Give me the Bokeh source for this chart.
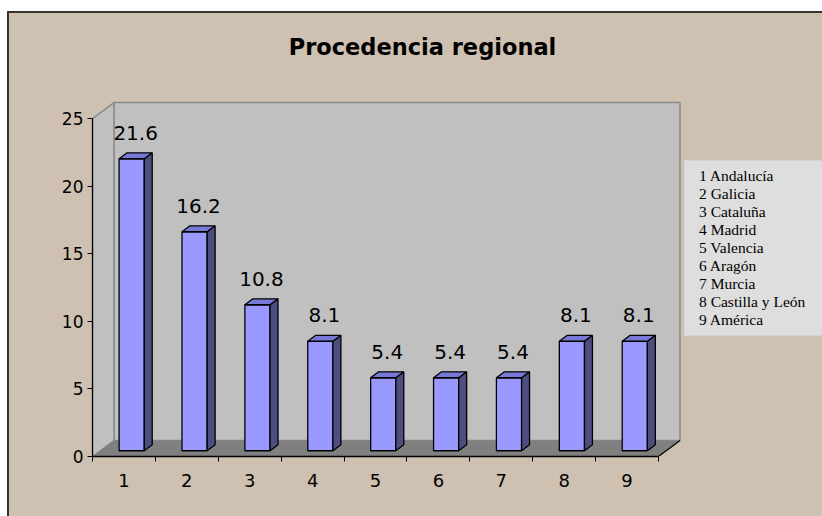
from bokeh.plotting import figure
from bokeh.models import Range1d, FixedTicker, Legend, LegendItem, Label
from bokeh.embed import file_html
from bokeh.resources import INLINE
from bokeh.core.properties import value

# ---------------- data ----------------
categories = ["1", "2", "3", "4", "5", "6", "7", "8", "9"]
regions = ["Andalucía", "Galicia", "Cataluña", "Madrid", "Valencia",
           "Aragón", "Murcia", "Castilla y León", "América"]
values = [21.6, 16.2, 10.8, 8.1, 5.4, 5.4, 5.4, 8.1, 8.1]
value_labels = ["21.6", "16.2", "10.8", "8.1", "5.4", "5.4", "5.4", "8.1", "8.1"]
y_ticks = [0, 5, 10, 15, 20, 25]
title_text = "Procedencia regional"

# ---------------- style / 3-D geometry (axis units) ----------------
TAN = "#CFC1B1"
WALL = "#C0C0C0"
FLOOR = "#808080"
EDGE = "#8A8A8A"
FRONT = "#9999FF"
SIDE = "#4D4D80"
TOP = "#7878D6"
BORDER = "#333333"

Y_MAX = 25
DX = 0.342        # depth shift in x (category units)
DY = 1.183        # depth shift in y (value units)
TOP_PAD = 7.55    # empty room above the back wall (title area)
RIGHT_PAD = 2.266 # empty room right of the back wall (legend area)
BAR_HALF = 0.2
BAR_FRONT = 0.36
BAR_DEPTH = 0.37
LABEL_GAP = 1.5

n = len(categories)
xs = list(range(1, n + 1))
x_lo, x_hi = 0.5, n + 0.5

W, H = 822, 516
p = figure(width=W, height=H, output_backend="svg", toolbar_location=None,
           x_range=Range1d(x_lo, x_hi + DX + RIGHT_PAD),
           y_range=Range1d(0, Y_MAX + DY + TOP_PAD),
           min_border_left=92, min_border_right=0, min_border_top=0,
           min_border_bottom=60)
# chart-area background (white page margin, dark frame lines, tan area)
p.border_fill_alpha = 0
p.background_fill_alpha = 0
p.styles = {"background":
            f"linear-gradient({BORDER}, {BORDER}) 7px 11px / 2px 100% no-repeat, "
            f"linear-gradient({BORDER}, {BORDER}) 7px 11px / 100% 2px no-repeat, "
            f"linear-gradient({TAN}, {TAN}) 9px 13px / 100% 100% no-repeat, "
            "#FFFFFF"}
p.outline_line_color = None
p.grid.visible = False

# walls and floor
p.patch([x_lo + DX, x_hi + DX, x_hi + DX, x_lo + DX],
        [DY, DY, Y_MAX + DY, Y_MAX + DY],
        fill_color=WALL, line_color=EDGE, line_width=1.5)
p.patch([x_lo, x_lo + DX, x_lo + DX, x_lo],
        [0, DY, Y_MAX + DY, Y_MAX],
        fill_color=WALL, line_color=EDGE, line_width=1.5)
p.patch([x_lo, x_hi, x_hi + DX, x_lo + DX], [0, 0, DY, DY],
        fill_color=FLOOR, line_color=None)
p.segment(x0=[x_hi], y0=[0], x1=[x_hi + DX], y1=[DY],
          line_color="black", line_width=1.2)

# bars
fx = [x + BAR_FRONT * DX for x in xs]
left = [c - BAR_HALF for c in fx]
right = [c + BAR_HALF for c in fx]
b0 = BAR_FRONT * DY
tops = [v + b0 for v in values]
bdx, bdy = BAR_DEPTH * DX, BAR_DEPTH * DY

p.quad(left=left, right=right, bottom=[b0] * n, top=tops,
       fill_color=FRONT, line_color="black", line_width=1.3)
p.patches([[r, r + bdx, r + bdx, r] for r in right],
          [[b0, b0 + bdy, t + bdy, t] for t in tops],
          fill_color=SIDE, line_color="black", line_width=1.3)
p.patches([[l, r, r + bdx, l + bdx] for l, r in zip(left, right)],
          [[t, t, t + bdy, t + bdy] for t in tops],
          fill_color=TOP, line_color="black", line_width=1.3)

p.text(x=[c + bdx / 2 for c in fx], y=[t + bdy + LABEL_GAP for t in tops],
       text=value_labels, text_align="center", text_baseline="alphabetic",
       text_font=value("DejaVu Sans"), text_font_size="20px", text_color="black")

# axes
xa = p.xaxis[0]
xa.ticker = FixedTicker(ticks=xs, minor_ticks=[x_lo + i for i in range(n + 1)])
xa.major_label_overrides = {x: c for x, c in zip(xs, categories)}
xa.bounds = (x_lo, x_hi)
xa.major_tick_in = 0
xa.major_tick_out = 0
xa.major_tick_line_color = None
xa.minor_tick_in = 0
xa.minor_tick_out = 5
xa.minor_tick_line_color = "black"
xa.axis_line_color = "black"
xa.axis_line_width = 1.3
xa.major_label_text_font = "DejaVu Sans"
xa.major_label_text_font_size = "18px"
xa.major_label_text_color = "black"
xa.major_label_standoff = 12

ya = p.yaxis[0]
ya.ticker = FixedTicker(ticks=y_ticks, minor_ticks=[])
ya.bounds = (0, Y_MAX)
ya.major_tick_in = 0
ya.major_tick_out = 5
ya.minor_tick_line_color = None
ya.major_tick_line_color = "black"
ya.axis_line_color = "black"
ya.axis_line_width = 1.3
ya.major_label_text_font = "DejaVu Sans"
ya.major_label_text_font_size = "17px"
ya.major_label_text_color = "black"
ya.major_label_standoff = 4

# legend (text only)
dummy = p.scatter(x=[], y=[], size=0, alpha=0)
items = [LegendItem(label=value(f"{c} {r}"), renderers=[dummy])
         for c, r in zip(categories, regions)]
legend = Legend(items=items, location=(592, 120), margin=0,
                padding=6, spacing=0, glyph_width=2, glyph_height=18,
                label_height=18, label_standoff=6, label_width=200,
                background_fill_color="#DEDEDE", background_fill_alpha=1,
                border_line_color="#C8C8C8", border_line_width=1.5,
                label_text_font="Liberation Serif", label_text_font_size="15.5px",
                label_text_color="black")
p.add_layout(legend, "center")

# chart title
p.add_layout(Label(x=422, y=46, x_units="canvas", y_units="canvas",
                   text=title_text, text_align="center",
                   text_baseline="alphabetic", text_font="DejaVu Sans",
                   text_font_size="22.5px", text_font_style="bold",
                   text_color="black"))

open("out.html", "w").write(file_html(p, INLINE))
